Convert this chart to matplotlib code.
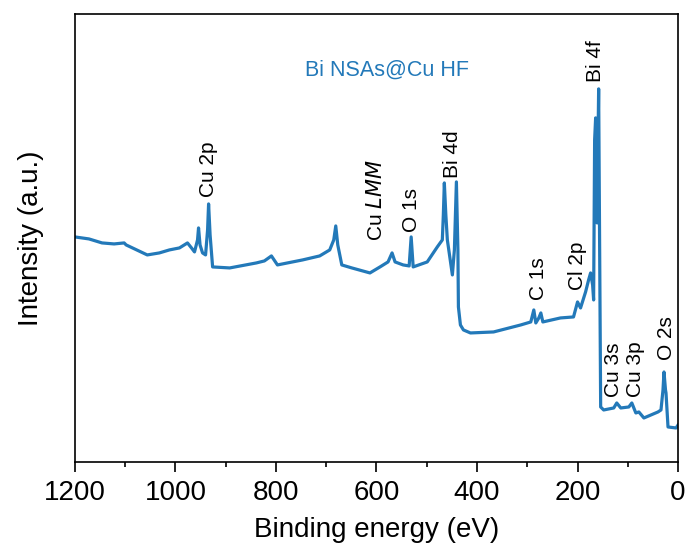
import matplotlib
matplotlib.use("Agg")
import matplotlib.pyplot as plt
from matplotlib.ticker import MultipleLocator

plt.rcParams["font.family"] = ["Liberation Sans", "DejaVu Sans"]

# survey spectrum (binding energy in eV, intensity a.u.)
energy = [1200, 1172, 1146, 1122, 1102, 1098, 1056, 1032, 1012, 992, 976, 968,
          962, 956, 954, 951, 946, 940, 936, 934, 931, 926, 892, 839, 823, 809,
          797, 747, 713, 693, 685, 681, 677, 669, 649, 613, 593, 577, 569, 563,
          547, 535, 531, 527, 499, 479, 469, 467, 465, 462, 459, 449, 445, 441,
          438, 437, 433, 427, 413, 367, 313, 293, 287, 283, 277, 273, 269, 234,
          208, 200, 194, 184, 178, 174, 170, 168, 166, 164, 161, 159, 158, 156,
          154, 148, 128, 122, 114, 98, 92, 84, 78, 68, 40, 34, 30, 28, 25, 24,
          20, 4, 0]
intensity = [225, 223, 219, 218, 219, 217, 207, 209, 212, 214, 219, 214,
             210, 222, 234, 217, 209, 207, 232, 258, 227, 195, 194, 199, 201, 206,
             197, 202, 206, 212, 222, 236, 217, 197, 194, 189, 195, 200, 209, 200,
             197, 196, 225, 195, 200, 215, 222, 247, 279, 247, 222, 187, 212, 280,
             212, 155, 137, 132, 129, 130, 137, 140, 152, 139, 144, 149, 140, 144,
             145, 160, 154, 170, 182, 189, 177, 162, 322, 344, 239, 332, 373, 212,
             55, 52, 54, 59, 54, 55, 59, 49, 50, 44, 50, 52, 72, 90, 72, 69,
             35, 34, 37]

# peak labels: text, energy, intensity at text base
peak_labels = ["Cu 2p", "Cu $\\mathit{LMM}$", "O 1s", "Bi 4d", "C 1s", "Cl 2p",
               "Bi 4f", "Cu 3s", "Cu 3p", "O 2s"]
label_energy = [934, 601, 530, 449, 277, 200, 164, 128, 84, 24]
label_height = [265, 221, 230, 284, 162, 172, 380, 65, 65, 102]

color = "#2379b9"

fig = plt.figure(figsize=(6.87, 5.55), dpi=100)
ax = fig.add_axes([0.109, 0.1676, 0.878, 0.8074])

ax.plot(energy, intensity, color=color, lw=2.3)

for txt, e, h in zip(peak_labels, label_energy, label_height):
    ax.text(e, h, txt, rotation=90, ha="center", va="bottom", fontsize=15)

ax.text(743, 392, "Bi NSAs@Cu HF", color=color, fontsize=15.5, ha="left", va="center")

ax.set_xlim(1200, 0)
ax.set_ylim(0, 448)
ax.set_yticks([])
ax.xaxis.set_major_locator(MultipleLocator(200))
ax.xaxis.set_minor_locator(MultipleLocator(100))
ax.tick_params(axis="x", which="major", direction="out", length=7, width=1.2,
               labelsize=20, pad=6)
ax.tick_params(axis="x", which="minor", direction="out", length=3.5, width=1.2)
for sp in ax.spines.values():
    sp.set_linewidth(1.2)

ax.set_xlabel("Binding energy (eV)", fontsize=20, labelpad=8)
ax.set_ylabel("Intensity (a.u.)", fontsize=20, labelpad=22)

fig.savefig("out.png", dpi=100)
